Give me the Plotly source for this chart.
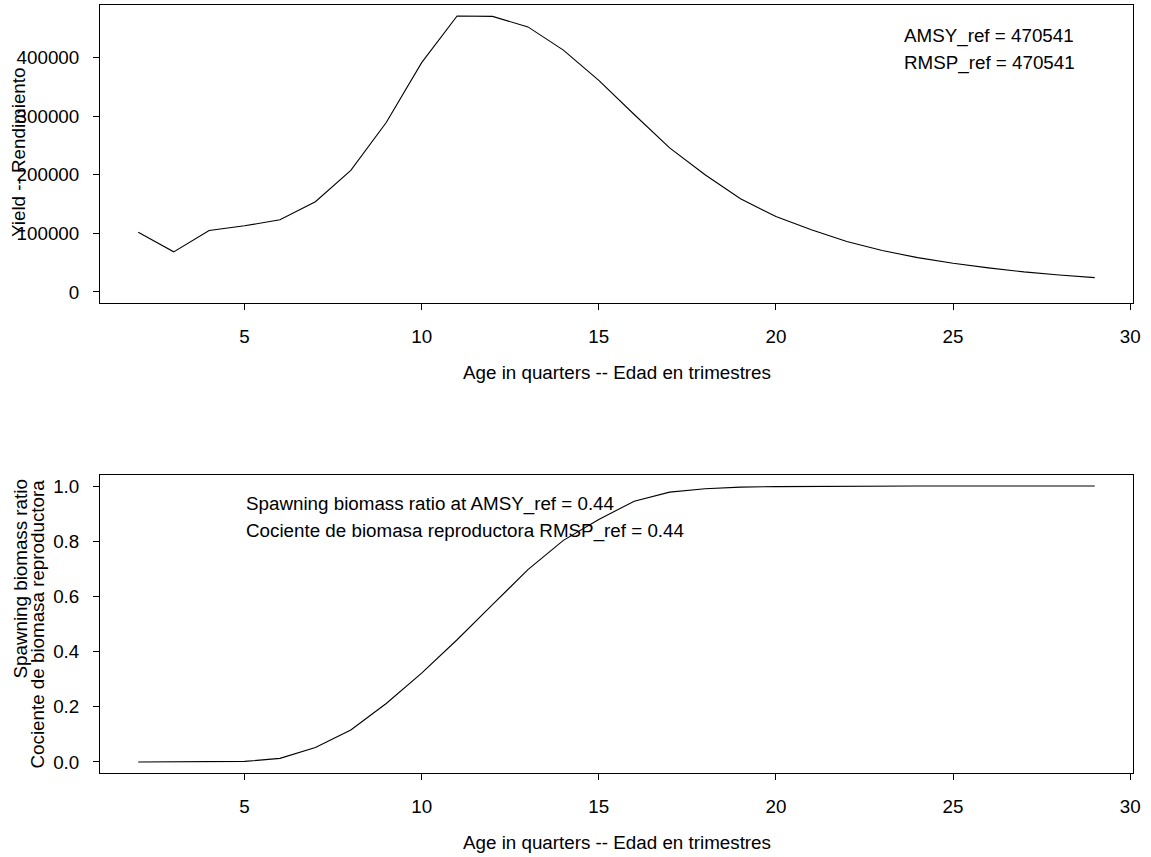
import plotly.graph_objects as go
from plotly.subplots import make_subplots

ages = list(range(2, 30))
yield_vals = [102000, 68400, 104800, 112800, 123000, 153800, 207400, 289000,
              391000, 470541, 470000, 452000, 412500, 360700, 302600, 245600,
              200000, 159000, 128700, 106000, 86000, 70600, 58600, 49000,
              41000, 34200, 29000, 24500]
sbr_vals = [0.0, 0.0, 0.0, 0.002, 0.013, 0.052, 0.116, 0.212, 0.322, 0.443,
            0.570, 0.697, 0.803, 0.879, 0.945, 0.978, 0.990, 0.996, 0.998,
            0.999, 1.0, 1.0, 1.0, 1.0, 1.0, 1.0, 1.0, 1.0]

x_ticks = [5, 10, 15, 20, 25, 30]
y1_ticks = [0, 100000, 200000, 300000, 400000]
y2_ticks = [0.0, 0.2, 0.4, 0.6, 0.8, 1.0]

xlab = "Age in quarters -- Edad en trimestres"
ylab1 = "Yield -- Rendimiento"
ylab2a = "Spawning biomass ratio"
ylab2b = "Cociente de biomasa reproductora"
ann_top = ["AMSY_ref = 470541", "RMSP_ref = 470541"]
ann_bot = ["Spawning biomass ratio at AMSY_ref = 0.44",
           "Cociente de biomasa reproductora RMSP_ref = 0.44"]

W, H = 1151, 857
ML, MR, MT, MB = 100, 18, 5, 84
PH = H - MT - MB
FONT = "Liberation Sans, Arial, sans-serif"
FS = 18.8


def py(pix):
    # pixel row -> paper y
    return (H - MB - pix) / PH


def px(pix):
    return (pix - ML) / (W - ML - MR)


fig = make_subplots(rows=2, cols=1)
fig.add_trace(go.Scatter(x=ages, y=yield_vals, mode="lines",
                         line=dict(color="black", width=1.1), showlegend=False),
              row=1, col=1)
fig.add_trace(go.Scatter(x=ages, y=sbr_vals, mode="lines",
                         line=dict(color="black", width=1.1), showlegend=False),
              row=2, col=1)

xmin, xmax = min(ages), max(ages)
xr = [xmin - 0.04 * (xmax - xmin), xmax + 0.04 * (xmax - xmin)]
ymax1 = max(yield_vals)
yr1 = [-0.04 * ymax1, ymax1 * 1.04]
yr2 = [-0.04, 1.04]

axis_common = dict(showline=True, mirror=True, linecolor="black", linewidth=1,
                   ticks="outside", ticklen=6, tickwidth=1, tickcolor="black",
                   showgrid=False, zeroline=False, automargin=False,
                   tickfont=dict(family=FONT, size=FS, color="black"))

fig.update_xaxes(range=xr, tickvals=x_ticks, domain=[0, 1],
                 ticklabelstandoff=10, **axis_common)
fig.update_yaxes(range=yr1, tickvals=y1_ticks, tickformat="d",
                 domain=[py(303), py(5)],
                 ticklabelstandoff=10, row=1, col=1, **axis_common)
fig.update_yaxes(range=yr2, tickvals=y2_ticks, tickformat=".1f",
                 domain=[py(773), py(475)], ticklabelstandoff=10,
                 row=2, col=1, **axis_common)

anns = []
f = dict(family=FONT, size=FS, color="black")
anns.append(dict(text=xlab, x=px(616.5), y=py(372), xref="paper", yref="paper",
                 showarrow=False, font=f, xanchor="center", yanchor="middle"))
anns.append(dict(text=xlab, x=px(616.5), y=py(842), xref="paper", yref="paper",
                 showarrow=False, font=f, xanchor="center", yanchor="middle"))
anns.append(dict(text=ylab1, x=px(18), y=py(152), xref="paper", yref="paper",
                 showarrow=False, font=f, textangle=-90,
                 xanchor="center", yanchor="middle"))
anns.append(dict(text=ylab2a, x=px(20), y=py(478), xref="paper", yref="paper",
                 showarrow=False, font=f, textangle=-90,
                 xanchor="center", yanchor="top"))
anns.append(dict(text=ylab2b, x=px(37), y=py(478), xref="paper", yref="paper",
                 showarrow=False, font=f, textangle=-90,
                 xanchor="center", yanchor="top"))
for i, t in enumerate(ann_top):
    anns.append(dict(text=t, x=px(902), y=py(36 + 27 * i), xref="paper",
                     yref="paper", showarrow=False, font=f,
                     xanchor="left", yanchor="middle"))
for i, t in enumerate(ann_bot):
    anns.append(dict(text=t, x=px(244), y=py(504 + 27 * i), xref="paper",
                     yref="paper", showarrow=False, font=f,
                     xanchor="left", yanchor="middle"))

fig.update_layout(width=W, height=H, margin=dict(l=ML, r=MR, t=MT, b=MB),
                  paper_bgcolor="white", plot_bgcolor="white",
                  annotations=anns, showlegend=False,
                  font=dict(family=FONT, size=FS, color="black"))

fig.write_html("out.html", config={"displayModeBar": False},
               post_script="document.body.style.margin='0';"
                           "document.body.style.padding='0';")
